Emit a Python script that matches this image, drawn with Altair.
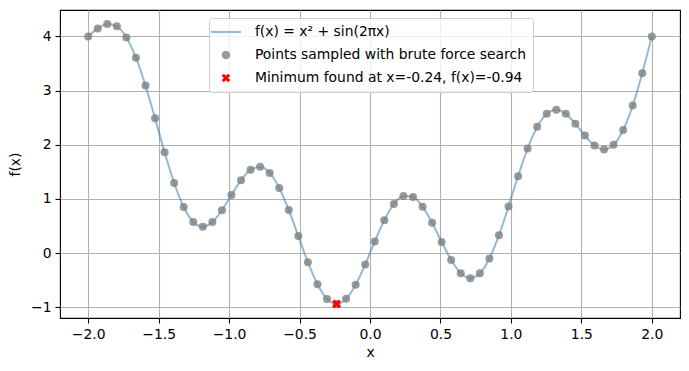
import altair as alt
import pandas as pd

# sampled x positions (60 points from -2 to 2) and f(x) values
xs = [-2.0, -1.9322, -1.86441, -1.79661, -1.72881, -1.66102, -1.59322, -1.52542, -1.45763, -1.38983,
      -1.32203, -1.25424, -1.18644, -1.11864, -1.05085, -0.98305, -0.91525, -0.84746, -0.77966, -0.71186,
      -0.64407, -0.57627, -0.50847, -0.44068, -0.37288, -0.30508, -0.23729, -0.16949, -0.10169, -0.0339,
      0.0339, 0.10169, 0.16949, 0.23729, 0.30508, 0.37288, 0.44068, 0.50847, 0.57627, 0.64407,
      0.71186, 0.77966, 0.84746, 0.91525, 0.98305, 1.05085, 1.11864, 1.18644, 1.25424, 1.32203,
      1.38983, 1.45763, 1.52542, 1.59322, 1.66102, 1.72881, 1.79661, 1.86441, 1.9322, 2.0]
ys = [4.0, 4.1466, 4.2286, 4.1852, 3.9799, 3.6066, 3.0912, 2.486, 1.8616, 1.2935,
      0.8484, 0.5735, 0.4863, 0.573, 0.7902, 1.0727, 1.3454, 1.5366, 1.5906, 1.4782,
      1.2014, 0.7932, 0.3118, -0.1699, -0.5774, -0.8476, -0.9405, -0.8461, -0.586, -0.2102,
      0.2125, 0.6067, 0.9036, 1.0531, 1.0338, 0.8555, 0.5583, 0.2053, -0.129, -0.3718,
      -0.4647, -0.3748, -0.1002, 0.33, 0.8601, 1.4184, 1.9297, 2.329, 2.5728, 2.6472,
      2.5698, 2.3878, 2.1679, 1.9855, 1.9113, 1.9976, 2.2704, 2.7234, 3.3202, 4.0]
min_x = [-0.23729]
min_y = [-0.9405]

labels = ["f(x) = x² + sin(2πx)",
          "Points sampled with brute force search",
          "Minimum found at x=-0.24, f(x)=-0.94"]
x_ticks = [-2.0, -1.5, -1.0, -0.5, 0.0, 0.5, 1.0, 1.5, 2.0]
y_ticks = [-1, 0, 1, 2, 3, 4]

df = pd.DataFrame({"x": xs, "y": ys, "series": labels[1]})
dmin = pd.DataFrame({"x": min_x, "y": min_y, "series": labels[2]})

FONT = "DejaVu Sans"
FS = 13.9
X_PATH = "M-1,-0.5L-0.5,-1L0,-0.5L0.5,-1L1,-0.5L0.5,0L1,0.5L0.5,1L0,0.5L-0.5,1L-1,0.5L-0.5,0Z"
LINE_PATH = "M-3.55,-0.24H3.55V0.24H-3.55Z"
colors = ["rgba(31,119,180,0.5)", "rgba(128,128,128,0.8)", "#ff0000"]

xscale = alt.Scale(domain=[-2.2, 2.2], nice=False, zero=False)
yscale = alt.Scale(domain=[-1.2, 4.487], nice=False, zero=False)

xaxis = alt.Axis(values=x_ticks, title="x",
                 labelExpr="replace(format(datum.value, '.1f'), '-', '\u2212')")
yaxis = alt.Axis(values=y_ticks, title="f(x)",
                 labelExpr="replace(format(datum.value, 'd'), '-', '\u2212')")

legend_kw = dict(title=None, orient="none", legendX=149, legendY=8,
                 fillColor="rgba(255,255,255,0.8)", strokeColor="#cccccc",
                 cornerRadius=3, padding=7, symbolSize=72, symbolOffset=3,
                 labelOffset=22, rowPadding=8, labelFont=FONT, labelFontSize=FS,
                 labelColor="black", labelLimit=400, symbolStrokeWidth=0)

cscale = alt.Scale(domain=labels, range=colors)
sscale = alt.Scale(domain=labels, range=[LINE_PATH, "circle", X_PATH])

line = alt.Chart(df).mark_line(color="rgba(31,119,180,0.5)", strokeWidth=2,
                               interpolate="monotone").encode(
    x=alt.X("x:Q", scale=xscale, axis=xaxis),
    y=alt.Y("y:Q", scale=yscale, axis=yaxis),
)

pts = alt.Chart(df).mark_point(filled=True, opacity=1, size=64).encode(
    x=alt.X("x:Q", scale=xscale, axis=xaxis),
    y=alt.Y("y:Q", scale=yscale, axis=yaxis),
    color=alt.Color("series:N", scale=cscale, legend=alt.Legend(**legend_kw)),
    shape=alt.Shape("series:N", scale=sscale, legend=alt.Legend(**legend_kw)),
)

mn = alt.Chart(dmin).mark_point(filled=True, opacity=1, size=80).encode(
    x=alt.X("x:Q", scale=xscale, axis=xaxis),
    y=alt.Y("y:Q", scale=yscale, axis=yaxis),
    color=alt.Color("series:N", scale=cscale, legend=alt.Legend(**legend_kw)),
    shape=alt.Shape("series:N", scale=sscale, legend=alt.Legend(**legend_kw)),
)

chart = alt.layer(line, pts, mn).properties(
    width=620, height=308,
    autosize=alt.AutoSizeParams(type="none"),
    padding={"left": 52, "top": 2, "right": 1, "bottom": 45},
).configure_view(
    stroke="black", strokeWidth=1.1
).configure_axis(
    grid=True, gridColor="#b0b0b0", gridWidth=1.1, domain=False,
    tickColor="black", tickSize=5, tickWidth=1.1,
    labelFont=FONT, labelFontSize=FS, labelColor="black", labelPadding=4,
    titleFont=FONT, titleFontSize=FS, titleFontWeight="normal", titleColor="black",
).configure_axisX(titlePadding=5).configure_axisY(titlePadding=8)

chart.save("out.html", embed_options={"renderer": "svg", "actions": False})
